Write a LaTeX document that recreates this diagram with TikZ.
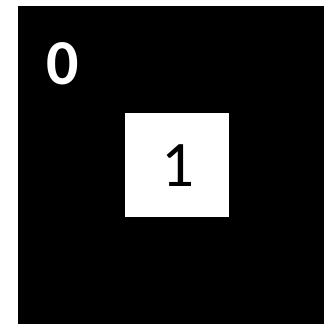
\documentclass[tikz,border=0pt]{standalone}
\usepackage{fontspec}
\setmainfont{Carlito}
\begin{document}
\begin{tikzpicture}[x=1pt,y=-1pt,
    cell/.style={fill=white, minimum size=104pt, inner sep=0pt},
    digit/.style={inner sep=0pt, font=\fontsize{65}{65}\selectfont},
    tag/.style={text=white, inner sep=0pt, font=\fontsize{64}{64}\selectfont\bfseries}]
    % margen
    \useasboundingbox (0,0) rectangle (324,324);
    % fondo negro
    \fill[black] (18,6) rectangle (324,324);
    % etiqueta 0
    \node[tag] (cero) at (62.5,63.5) {0};
    % casilla 1
    \node[cell] (uno) at (177,165) {};
    \node[digit] (unotxt) at (177.5,165.5) {1};
\end{tikzpicture}
\end{document}
